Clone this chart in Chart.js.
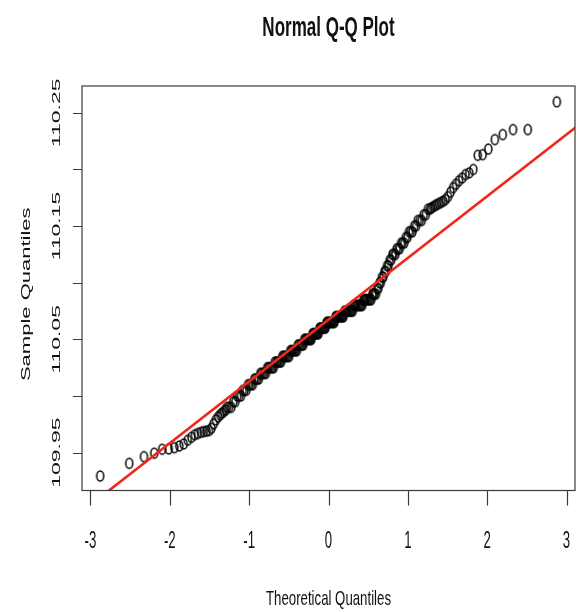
<!DOCTYPE html>
<html>
<head>
<meta charset="utf-8">
<script src="https://cdn.jsdelivr.net/npm/chart.js@4.4.1/dist/chart.umd.min.js"></script>
<style>
  html, body { margin: 0; padding: 0; background: #fff; }
  #qq { display: block; }
</style>
</head>
<body>
<canvas id="qq" width="581" height="612"></canvas>
<script>
// theoretical quantiles (n = 250): tails point by point, middle every ~2.5th
const theoQ = [
  -2.878, -2.512, -2.326, -2.197, -2.097, -2.014, -1.943, -1.881, -1.825, -1.774,
  -1.728, -1.685, -1.645, -1.607, -1.572, -1.538, -1.506, -1.476, -1.447, -1.419,
  -1.392, -1.366, -1.341, -1.317, -1.293,
  -1.2816, -1.2265, -1.175, -1.1264, -1.0803, -1.0364, -0.9945, -0.9542, -0.9154, -0.8779,
  -0.8416, -0.8064, -0.7722, -0.7388, -0.7063, -0.6745, -0.6433, -0.6128, -0.5828, -0.5534,
  -0.5244, -0.4959, -0.4677, -0.4399, -0.4125, -0.3853, -0.3585, -0.3319, -0.3055, -0.2793,
  -0.2533, -0.2275, -0.2019, -0.1764, -0.151, -0.1257, -0.1004, -0.0753, -0.0502, -0.0251,
  0,
  0.0251, 0.0502, 0.0753, 0.1004, 0.1257, 0.151, 0.1764, 0.2019, 0.2275, 0.2533,
  0.2793, 0.3055, 0.3319, 0.3585, 0.3853, 0.4125, 0.4399, 0.4677, 0.4959, 0.5244,
  0.5534, 0.5828, 0.6128, 0.6433, 0.6745, 0.7063, 0.7388, 0.7722, 0.8064, 0.8416,
  0.8779, 0.9154, 0.9542, 0.9945, 1.0364, 1.0803, 1.1264, 1.175, 1.2265, 1.2816,
  1.293, 1.317, 1.341, 1.366, 1.392, 1.419, 1.447, 1.476, 1.506, 1.538,
  1.572, 1.607, 1.645, 1.685, 1.728, 1.774, 1.825, 1.881, 1.943, 2.014,
  2.097, 2.197, 2.326, 2.512, 2.878
];
const sampleQ = [
  109.9294, 109.9406, 109.9465, 109.9495, 109.953, 109.9533, 109.9544, 109.9559, 109.9577, 109.961,
  109.9635, 109.9658, 109.967, 109.968, 109.9686, 109.969, 109.9695, 109.9715, 109.9755, 109.979,
  109.9815, 109.9835, 109.985, 109.9865, 109.9878,
  109.99, 109.99, 109.995, 110.0, 110.005, 110.005, 110.01, 110.01, 110.015, 110.015,
  110.02, 110.02, 110.025, 110.025, 110.025, 110.03, 110.03, 110.03, 110.035, 110.035,
  110.035, 110.035, 110.04, 110.04, 110.04, 110.045, 110.045, 110.045, 110.05, 110.05,
  110.05, 110.05, 110.055, 110.055, 110.055, 110.055, 110.06, 110.06, 110.06, 110.065,
  110.065,
  110.065, 110.065, 110.065, 110.07, 110.07, 110.07, 110.07, 110.075, 110.075, 110.075,
  110.075, 110.075, 110.08, 110.08, 110.08, 110.08, 110.085, 110.085, 110.085, 110.085,
  110.09, 110.09, 110.095, 110.1, 110.105, 110.11, 110.115, 110.12, 110.125, 110.125,
  110.13, 110.135, 110.135, 110.14, 110.145, 110.15, 110.155, 110.155, 110.16, 110.165,
  110.166, 110.167, 110.168, 110.169, 110.17, 110.171, 110.172, 110.1735, 110.176, 110.18,
  110.184, 110.187, 110.19, 110.1925, 110.1955, 110.197, 110.2, 110.2125, 110.2131, 110.218,
  110.2264, 110.2308, 110.2352, 110.2352, 110.2597
];

// the in-between points of the dense middle band
const theoQMid = [
  -1.2536, -1.2004, -1.1503, -1.1031, -1.0581, -1.0152, -0.9741, -0.9346, -0.8965, -0.8596,
  -0.8239, -0.7892, -0.7554, -0.7225, -0.6903, -0.6588, -0.628, -0.5978, -0.5681, -0.5388,
  -0.5101, -0.4817, -0.4538, -0.4261, -0.3989, -0.3719, -0.3451, -0.3186, -0.2924, -0.2663,
  -0.2404, -0.2147, -0.1891, -0.1637, -0.1383, -0.113, -0.0878, -0.0627, -0.0376, -0.0125,
  0.0125, 0.0376, 0.0627, 0.0878, 0.113, 0.1383, 0.1637, 0.1891, 0.2147, 0.2404,
  0.2663, 0.2924, 0.3186, 0.3451, 0.3719, 0.3989, 0.4261, 0.4538, 0.4817, 0.5101,
  0.5388, 0.5681, 0.5978, 0.628, 0.6588, 0.6903, 0.7225, 0.7554, 0.7892, 0.8239,
  0.8596, 0.8965, 0.9346, 0.9741, 1.0152, 1.0581, 1.1031, 1.1503, 1.2004, 1.2536
];
const sampleQMid = [
  109.99, 109.995, 110.0, 110.0, 110.005, 110.01, 110.01, 110.015, 110.015, 110.02,
  110.02, 110.02, 110.025, 110.025, 110.025, 110.03, 110.03, 110.03, 110.035, 110.035,
  110.035, 110.04, 110.04, 110.04, 110.04, 110.045, 110.045, 110.045, 110.05, 110.05,
  110.05, 110.05, 110.055, 110.055, 110.055, 110.06, 110.06, 110.06, 110.06, 110.065,
  110.065, 110.065, 110.065, 110.07, 110.07, 110.07, 110.07, 110.07, 110.075, 110.075,
  110.075, 110.075, 110.08, 110.08, 110.08, 110.08, 110.08, 110.085, 110.085, 110.085,
  110.085, 110.09, 110.09, 110.095, 110.1, 110.105, 110.11, 110.115, 110.12, 110.125,
  110.13, 110.13, 110.135, 110.14, 110.145, 110.145, 110.15, 110.155, 110.16, 110.165
];

// qqline end points
const lineX = [-3.2, 3.2];
const lineY = [109.893, 110.2418];

const xTicks = [-3, -2, -1, 0, 1, 2, 3];
const yTicks = [109.95, 110.00, 110.05, 110.10, 110.15, 110.20, 110.25];
const yTickLabels = ["109.95", "110.05", "110.15", "110.25"];

const chartTitle = "Normal Q-Q Plot";
const xTitle = "Theoretical Quantiles";
const yTitle = "Sample Quantiles";

// open circle, a little taller than wide like the source image
function ringImage() {
  const c = document.createElement("canvas");
  c.width = 11; c.height = 14;
  const g = c.getContext("2d");
  g.strokeStyle = "#000";
  g.lineWidth = 1.5;
  g.beginPath();
  g.ellipse(5.5, 7, 3.5, 5, 0, 0, Math.PI * 2);
  g.stroke();
  return c;
}

const FONT = '"Liberation Sans", Arial, Helvetica, sans-serif';

function squeezedText(ctx, text, x, y, font, s, rotated) {
  ctx.save();
  ctx.translate(x, y);
  if (rotated) {
    ctx.rotate(-Math.PI / 2);
    ctx.scale(1, s);
  } else {
    ctx.scale(s, 1);
  }
  ctx.font = font;
  ctx.textAlign = "center";
  ctx.textBaseline = "alphabetic";
  ctx.fillText(text, 0, 0);
  ctx.restore();
}

const rAxes = {
  id: "rAxes",
  afterDraw(chart) {
    const { ctx, chartArea: a, scales } = chart;
    const sx = scales.x, sy = scales.y;
    ctx.save();
    ctx.strokeStyle = "#3a3a3a";
    ctx.lineWidth = 1.2;
    ctx.strokeRect(a.left, a.top, a.right - a.left, a.bottom - a.top);

    ctx.beginPath();
    xTicks.forEach((v) => {
      const px = Math.round(sx.getPixelForValue(v)) + 0.5;
      ctx.moveTo(px, a.bottom);
      ctx.lineTo(px, a.bottom + 15);
    });
    yTicks.forEach((v) => {
      const py = Math.round(sy.getPixelForValue(v)) + 0.5;
      ctx.moveTo(a.left, py);
      ctx.lineTo(a.left - 9, py);
    });
    ctx.stroke();

    ctx.fillStyle = "#111";
    xTicks.forEach((v) => {
      squeezedText(ctx, String(v), sx.getPixelForValue(v), 548, "24px " + FONT, 0.55, false);
    });
    yTickLabels.forEach((t) => {
      squeezedText(ctx, t, 60, sy.getPixelForValue(parseFloat(t)), "23px " + FONT, 0.5, true);
    });

    const midX = (a.left + a.right) / 2;
    const midY = (a.top + a.bottom) / 2;
    squeezedText(ctx, chartTitle, midX, 36, "bold 27px " + FONT, 0.63, false);
    squeezedText(ctx, xTitle, midX, 605, "21px " + FONT, 0.63, false);
    squeezedText(ctx, yTitle, 30, midY + 6, "22px " + FONT, 0.62, true);
    ctx.restore();
  },
};

const ring = ringImage();
const pts = theoQ.map((x, i) => ({ x, y: sampleQ[i] }))
  .concat(theoQMid.map((x, i) => ({ x, y: sampleQMid[i] })));

new Chart(document.getElementById("qq"), {
  type: "scatter",
  data: {
    datasets: [
      {
        type: "line",
        data: lineX.map((x, i) => ({ x, y: lineY[i] })),
        borderColor: "rgb(242,38,24)",
        borderWidth: 2.6,
        pointRadius: 0,
        fill: false,
      },
      {
        data: pts,
        pointStyle: ring,
        pointRadius: 5,
        showLine: false,
      },
    ],
  },
  options: {
    responsive: false,
    animation: false,
    layout: { padding: { left: 82, top: 86, right: 1.5, bottom: 121.5 } },
    scales: {
      x: { type: "linear", display: false, min: -3.107, max: 3.107 },
      y: { type: "linear", display: false, min: 109.9166, max: 110.2737 },
    },
    plugins: { legend: { display: false }, tooltip: { enabled: false } },
  },
  plugins: [rAxes],
});
</script>
</body>
</html>
